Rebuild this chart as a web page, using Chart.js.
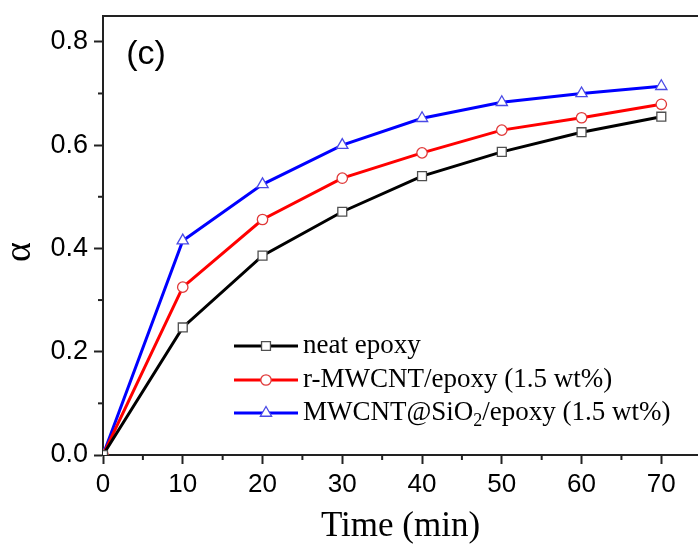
<!DOCTYPE html>
<html>
<head>
    <title>Curing degree vs time</title>
    <script src="https://cdn.jsdelivr.net/npm/chart.js@4.4.0/dist/chart.umd.min.js"></script>
    <style>
        html, body { margin: 0; padding: 0; background: white; }
        #wrap { width: 698px; height: 552px; }
    </style>
</head>
<body>
<div id="wrap"><canvas id="alpha"></canvas></div>
<script>
    // data
    const times = [0, 10, 20, 30, 40, 50, 60, 70];
    const neatEpoxy = [0.0, 0.247, 0.386, 0.471, 0.540, 0.587, 0.625, 0.655];
    const rMwcnt = [0.0, 0.325, 0.456, 0.536, 0.585, 0.629, 0.653, 0.679];
    const mwcntSio2 = [0.0, 0.415, 0.524, 0.600, 0.652, 0.683, 0.700, 0.714];
    const seriesNames = ['neat epoxy', 'r-MWCNT/epoxy (1.5 wt%)', 'MWCNT@SiO_2/epoxy (1.5 wt%)'];
    const xTickLabels = ['0', '10', '20', '30', '40', '50', '60', '70'];
    const yTickLabels = ['0.0', '0.2', '0.4', '0.6', '0.8'];

    const AXIS = '#222';

    function pts(ys) {
        return times.map((t, i) => ({x: t, y: ys[i]}));
    }

    // minor ticks are shorter, draw them ourselves
    const minorTicks = {
        id: 'minorTicks',
        afterDraw(chart) {
            const c = chart.ctx;
            const xs = chart.scales.x, ys = chart.scales.y;
            c.save();
            c.strokeStyle = AXIS;
            c.lineWidth = 2;
            for (let v = 5; v < xs.max; v += 10) {
                const px = xs.getPixelForValue(v);
                c.beginPath();
                c.moveTo(px, xs.top);
                c.lineTo(px, xs.top + 5);
                c.stroke();
            }
            for (let v = 0.1; v < ys.max; v += 0.2) {
                const py = ys.getPixelForValue(v);
                c.beginPath();
                c.moveTo(ys.right, py);
                c.lineTo(ys.right - 5, py);
                c.stroke();
            }
            // top frame line
            c.beginPath();
            c.moveTo(chart.chartArea.left - 1, chart.chartArea.top);
            c.lineTo(chart.chartArea.right, chart.chartArea.top);
            c.stroke();
            c.restore();
        }
    };

    const extras = {
        id: 'extras',
        afterDraw(chart) {
            const c = chart.ctx;
            c.save();
            // panel label
            c.fillStyle = '#000';
            c.font = '34px "Liberation Sans", Arial, sans-serif';
            c.textAlign = 'center';
            c.textBaseline = 'middle';
            c.fillText('(c)', 146, 55);

            // y axis title
            c.save();
            c.translate(20, 252);
            c.rotate(-Math.PI / 2);
            c.font = '38px "Liberation Serif", "Times New Roman", serif';
            c.fillText('\u03b1', 0, 0);
            c.restore();

            // legend
            const rows = [346, 380, 413];
            chart.data.datasets.forEach((ds, i) => {
                const y = rows[i];
                c.strokeStyle = ds.borderColor;
                c.lineWidth = ds.borderWidth;
                c.beginPath();
                c.moveTo(234, y);
                c.lineTo(298, y);
                c.stroke();
                c.fillStyle = ds.pointBackgroundColor;
                c.strokeStyle = ds.pointBorderColor;
                c.lineWidth = ds.pointBorderWidth;
                Chart.helpers.drawPoint(c, {pointStyle: ds.pointStyle, radius: ds.pointRadius, borderWidth: ds.pointBorderWidth}, 266, y);

                c.fillStyle = '#000';
                c.textAlign = 'left';
                c.textBaseline = 'middle';
                const big = '27px "Liberation Serif", "Times New Roman", serif';
                const small = '18px "Liberation Serif", "Times New Roman", serif';
                const parts = seriesNames[i].split('_');
                let x = 303;
                parts.forEach((p, k) => {
                    if (k > 0) {
                        c.font = small;
                        c.fillText(p[0], x, y + 8);
                        x += c.measureText(p[0]).width;
                        p = p.slice(1);
                    }
                    c.font = big;
                    c.fillText(p, x, y);
                    x += c.measureText(p).width;
                });
            });
            c.restore();
        }
    };

    Chart.defaults.font.family = '"Liberation Sans", Arial, sans-serif';
    Chart.defaults.color = '#000';

    new Chart(document.getElementById('alpha'), {
        type: 'line',
        data: {
            datasets: [{
                label: seriesNames[0],
                data: pts(neatEpoxy),
                borderColor: '#000000',
                borderWidth: 3,
                pointStyle: 'rect',
                pointRadius: 6.3,
                pointBackgroundColor: '#ffffff',
                pointBorderColor: '#505050',
                pointBorderWidth: 1.3
            }, {
                label: seriesNames[1],
                data: pts(rMwcnt),
                borderColor: '#ff0000',
                borderWidth: 3,
                pointStyle: 'circle',
                pointRadius: 5.2,
                pointBackgroundColor: '#ffffff',
                pointBorderColor: '#e03a3a',
                pointBorderWidth: 1.3
            }, {
                label: seriesNames[2],
                data: pts(mwcntSio2),
                borderColor: '#0000ff',
                borderWidth: 3,
                pointStyle: 'triangle',
                pointRadius: 6.5,
                pointBackgroundColor: '#ffffff',
                pointBorderColor: '#4a4ae6',
                pointBorderWidth: 1.3
            }]
        },
        options: {
            responsive: true,
            maintainAspectRatio: false,
            animation: false,
            events: [],
            layout: {autoPadding: false, padding: {top: 16, right: 0, left: 0, bottom: 0}},
            plugins: {legend: {display: false}, tooltip: {enabled: false}},
            scales: {
                x: {
                    type: 'linear',
                    min: 0,
                    max: 74.6,
                    afterFit(s) { s.height = 97; s.paddingLeft = 0; s.paddingRight = 0; },
                    border: {color: AXIS, width: 2},
                    grid: {drawOnChartArea: false, drawTicks: true, tickLength: 9, tickWidth: 2, tickColor: AXIS},
                    ticks: {
                        stepSize: 10,
                        includeBounds: false,
                        autoSkip: false,
                        maxRotation: 0,
                        padding: 5,
                        font: {size: 26},
                        callback: (v) => xTickLabels[times.indexOf(v)] ?? ''
                    },
                    title: {
                        display: true,
                        text: 'Time (min)',
                        font: {family: '"Liberation Serif", "Times New Roman", serif', size: 35},
                        padding: {top: 0, bottom: 4}
                    }
                },
                y: {
                    type: 'linear',
                    min: 0,
                    max: 0.85,
                    afterFit(s) { s.width = 103; s.paddingTop = 0; s.paddingBottom = 0; },
                    border: {color: AXIS, width: 2},
                    grid: {drawOnChartArea: false, drawTicks: true, tickLength: 9, tickWidth: 2, tickColor: AXIS},
                    ticks: {
                        stepSize: 0.2,
                        includeBounds: false,
                        autoSkip: false,
                        padding: 6,
                        font: {size: 27},
                        callback: (v) => yTickLabels[Math.round(v * 5)] ?? ''
                    }
                }
            }
        },
        plugins: [minorTicks, extras]
    });
</script>
</body>
</html>
